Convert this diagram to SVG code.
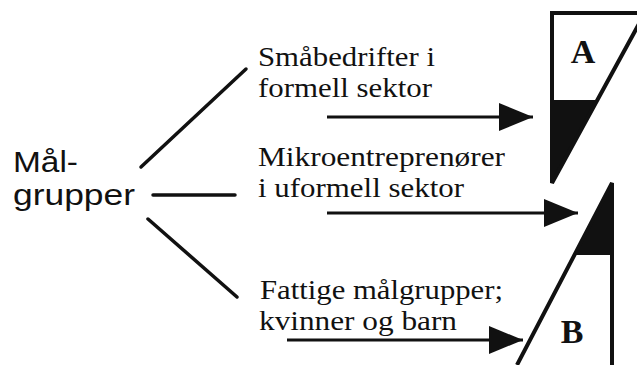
<svg xmlns="http://www.w3.org/2000/svg" width="637" height="365" viewBox="0 0 637 365">
<style>
  .sans { font-family: "Liberation Sans", Arial, sans-serif; font-size: 29.5px; fill: #111; }
  .serif { font-family: "Liberation Serif", "Times New Roman", serif; font-size: 28px; fill: #111; }
  .lbl { font-family: "Liberation Serif", "Times New Roman", serif; font-size: 34px; font-weight: bold; fill: #111; text-anchor: middle; }
  .edge { stroke: #111; stroke-width: 3.5; fill: none; stroke-linecap: round; }
  .arrow { stroke: #111; stroke-width: 3; fill: none; marker-end: url(#head); }
  .outline { stroke: #111; stroke-width: 4; fill: none; stroke-linejoin: miter; }
  .solid { fill: #111; stroke: none; }
</style>
<defs>
  <marker id="head" markerUnits="userSpaceOnUse" viewBox="0 0 34 28" refX="34" refY="14" markerWidth="34" markerHeight="28" orient="auto">
    <path d="M0,0 L34,14 L0,28 Z" fill="#111"/>
  </marker>
</defs>

<g id="root">
  <text class="sans" x="13" y="172" textLength="65" lengthAdjust="spacingAndGlyphs">Mål-</text>
  <text class="sans" x="13" y="205" textLength="122" lengthAdjust="spacingAndGlyphs">grupper</text>
</g>

<g id="smabedrifter">
  <text class="serif" x="258" y="66" textLength="177" lengthAdjust="spacingAndGlyphs">Småbedrifter i</text>
  <text class="serif" x="258" y="97" textLength="174" lengthAdjust="spacingAndGlyphs">formell sektor</text>
</g>

<g id="mikroentreprenorer">
  <text class="serif" x="258" y="166" textLength="247" lengthAdjust="spacingAndGlyphs">Mikroentreprenører</text>
  <text class="serif" x="258" y="197" textLength="206" lengthAdjust="spacingAndGlyphs">i uformell sektor</text>
</g>

<g id="fattige">
  <text class="serif" x="260" y="299" textLength="243" lengthAdjust="spacingAndGlyphs">Fattige målgrupper;</text>
  <text class="serif" x="259" y="330" textLength="198" lengthAdjust="spacingAndGlyphs">kvinner og barn</text>
</g>

<g id="shapeA">
  <path class="solid" d="M552,100 L597.4,100 L552,183 Z"/>
  <path class="outline" d="M645,13 L552,13 L552,183 L640,22"/>
  <text class="lbl" x="583" y="63">A</text>
</g>

<g id="shapeB">
  <path class="solid" d="M612,183 L575.5,253 L612,253 Z"/>
  <path class="outline" d="M517,365 L612,183 L612,370"/>
  <line class="outline" x1="575.5" y1="253" x2="612" y2="253"/>
  <text class="lbl" x="572" y="343">B</text>
</g>

<g id="connectors">
  <line class="edge" x1="141" y1="167" x2="246" y2="69"/>
  <line class="edge" x1="153" y1="195" x2="235" y2="195"/>
  <line class="edge" x1="148" y1="219" x2="237" y2="297"/>
  <line class="arrow" x1="327" y1="117" x2="533" y2="117"/>
  <line class="arrow" x1="327" y1="213" x2="578" y2="213"/>
  <line class="arrow" x1="287" y1="340" x2="523" y2="340"/>
</g>
</svg>
